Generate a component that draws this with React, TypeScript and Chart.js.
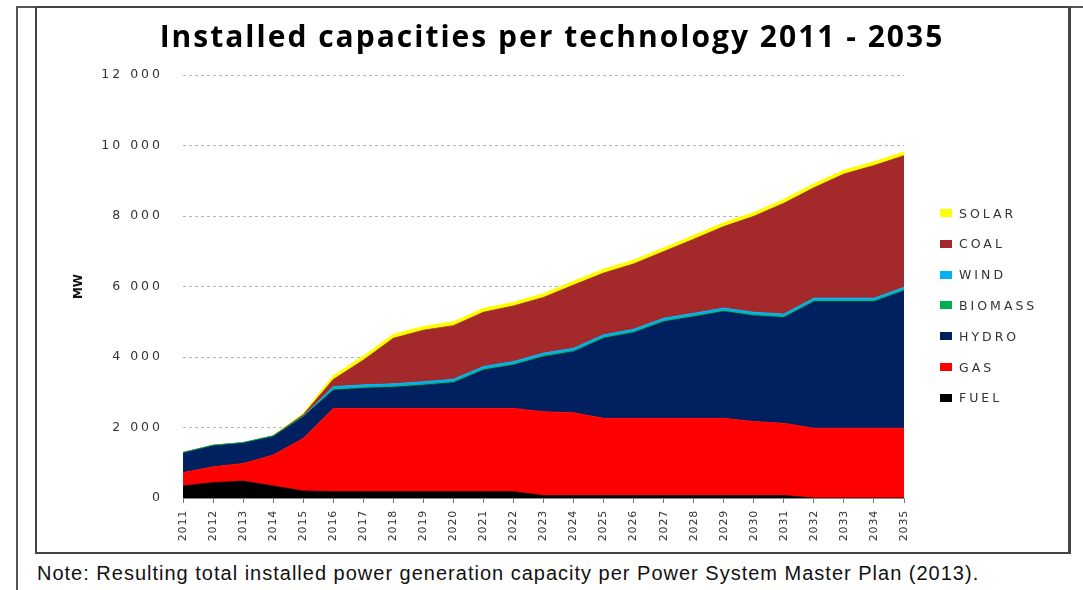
import React, { useEffect, useRef } from 'react';
import { Chart, registerables, LinearScale, CategoryScale } from 'chart.js';

class SpacedLinearScale extends LinearScale {
  static id = 'spacedLinear';
  static defaults = LinearScale.defaults;
  drawLabels(area: any) {
    const ctx = this.ctx as any;
    ctx.save();
    ctx.letterSpacing = '3px';
    super.drawLabels(area);
    ctx.restore();
  }
}

class SpacedCategoryScale extends CategoryScale {
  static id = 'spacedCategory';
  static defaults = CategoryScale.defaults;
  drawLabels(area: any) {
    const ctx = this.ctx as any;
    ctx.save();
    ctx.letterSpacing = '0.8px';
    super.drawLabels(area);
    ctx.restore();
  }
}

Chart.register(...registerables, SpacedLinearScale, SpacedCategoryScale);

const TITLE = 'Installed capacities per technology 2011 - 2035';
const NOTE = 'Note: Resulting total installed power generation capacity per Power System Master Plan (2013).';
const Y_TITLE = 'MW';

const YEARS = ['2011', '2012', '2013', '2014', '2015', '2016', '2017', '2018', '2019', '2020', '2021', '2022', '2023',
  '2024', '2025', '2026', '2027', '2028', '2029', '2030', '2031', '2032', '2033', '2034', '2035'];

const FUEL = [340, 435, 480, 340, 200, 180, 180, 180, 180, 180, 180, 180, 70, 70, 70, 70, 70, 70, 70, 70, 70, 0, 0, 0, 0];
const GAS = [380, 450, 500, 880, 1490, 2360, 2360, 2360, 2360, 2360, 2360, 2360, 2380, 2350, 2190, 2190, 2190, 2190, 2190, 2100, 2050, 1980, 1980, 1980, 1980];
const HYDRO = [550, 590, 570, 520, 610, 520, 570, 600, 660, 730, 1090, 1230, 1560, 1730, 2270, 2430, 2740, 2880, 3030, 3000, 3000, 3590, 3590, 3590, 3900];
const BIOMASS = [20, 20, 20, 20, 20, 30, 30, 30, 30, 30, 30, 30, 30, 30, 30, 30, 30, 30, 30, 30, 30, 30, 30, 30, 30];
const WIND = [0, 0, 0, 0, 0, 70, 70, 70, 70, 70, 70, 70, 70, 70, 70, 70, 70, 70, 70, 70, 70, 70, 70, 70, 70];
const COAL = [0, 0, 0, 0, 40, 200, 700, 1290, 1460, 1520, 1540, 1580, 1580, 1790, 1750, 1850, 1890, 2100, 2310, 2720, 3140, 3130, 3520, 3760, 3730];
const SOLAR = [0, 0, 0, 0, 20, 100, 100, 100, 100, 100, 100, 100, 100, 100, 100, 100, 100, 100, 100, 100, 100, 100, 100, 100, 100];

const Y_TICKS = [0, 2000, 4000, 6000, 8000, 10000, 12000];

const SERIES_NAMES = ['FUEL', 'GAS', 'HYDRO', 'BIOMASS', 'WIND', 'COAL', 'SOLAR'];
const SERIES_COLORS = ['#000000', '#FF0000', '#002060', '#00B050', '#00B0F0', '#A3292B', '#FFFF00'];
const LEGEND_COLORS = ['#000000', '#FF0000', '#002060', '#00B050', '#00B0F0', '#A3292B', '#FFFF00'];

function fmt(v: number): string {
  if (v < 1000) return String(v);
  const th = Math.floor(v / 1000);
  const rest = String(v % 1000).padStart(3, '0');
  return th + ' ' + rest;
}

export default function App() {
  const ref = useRef<HTMLCanvasElement>(null);
  useEffect(() => {
    const values = [FUEL, GAS, HYDRO, BIOMASS, WIND, COAL, SOLAR];
    const chart = new Chart(ref.current!, {
      type: 'line',
      data: {
        labels: YEARS,
        datasets: SERIES_NAMES.map((name, i) => ({
          label: name,
          data: values[i],
          backgroundColor: SERIES_COLORS[i],
          borderColor: SERIES_COLORS[i],
          borderWidth: name === 'SOLAR' ? 1.5 : 0.8,
          fill: i === 0 ? 'origin' : '-1',
          pointRadius: 0,
          pointHoverRadius: 0,
          tension: 0,
        })),
      },
      options: {
        responsive: false,
        animation: false,
        events: [],
        layout: { padding: { left: 32, right: 164, top: 66, bottom: 0 } },
        plugins: {
          legend: { display: false },
          title: { display: false },
          tooltip: { enabled: false },
        },
        scales: {
          x: {
            type: 'spacedCategory' as any,
            offset: false,
            grid: { drawOnChartArea: false, drawTicks: true, tickLength: 5, color: '#777' },
            border: { display: true, color: '#888', width: 1 },
            ticks: {
              autoSkip: false,
              maxRotation: 90,
              minRotation: 90,
              padding: 7,
              color: '#333',
              font: { family: 'DejaVu Sans', size: 11 },
            },
            afterFit: (s: any) => { s.height = 54; },
          },
          y: {
            type: 'spacedLinear' as any,
            stacked: true,
            min: 0,
            max: 12000,
            afterBuildTicks: (s: any) => { s.ticks = Y_TICKS.map((v) => ({ value: v })); },
            ticks: {
              padding: 20,
              color: '#333',
              font: { family: 'DejaVu Sans', size: 12.5 },
              callback: (v: any) => fmt(Number(v)),
            },
            grid: {
              drawTicks: false,
              lineWidth: 1,
              color: (c: any) => (c.tick && c.tick.value === 0 ? 'rgba(0,0,0,0)' : '#b5b5b5'),
            },
            border: { display: false, dash: [3, 3] },
            title: {
              display: true,
              text: Y_TITLE,
              color: '#111',
              font: { family: 'DejaVu Sans', size: 12, weight: 'bold' },
              padding: { top: 2, bottom: 0 },
            },
            afterFit: (s: any) => { s.width = 113; },
          },
        },
      },
    } as any);
    return () => chart.destroy();
  }, []);

  const legendOrder = [6, 5, 4, 3, 2, 1, 0];

  return (
    <div style={{ position: 'absolute', left: 0, top: 0, width: 1083, height: 590, background: '#fff', overflow: 'hidden' }}>
      <div style={{ position: 'absolute', left: 16, top: 6, width: 2, height: 584, background: '#555' }} />
      <div style={{ position: 'absolute', left: 16, top: 6, width: 1067, height: 2, background: '#555' }} />
      <div style={{ position: 'absolute', left: 35, top: 6, width: 1036, height: 548, border: '2px solid #444', borderRightWidth: 3, boxSizing: 'border-box' }} />
      <canvas ref={ref} width={1030} height={543} style={{ position: 'absolute', left: 38, top: 9, width: 1030, height: 543 }} />
      <div style={{ position: 'absolute', left: 0, width: 1104, top: 15, textAlign: 'center', fontFamily: '"Open Sans", sans-serif', fontWeight: 700, fontSize: 30, color: '#000', whiteSpace: 'nowrap', letterSpacing: '2px' }}>
        {TITLE}
      </div>
      {legendOrder.map((idx, row) => (
        <div key={SERIES_NAMES[idx]} style={{ position: 'absolute', left: 940, top: 213 + row * 30.8 - 9, height: 18, display: 'flex', alignItems: 'center' }}>
          <div style={{ width: 12, height: 8, background: LEGEND_COLORS[idx] }} />
          <div style={{ marginLeft: 7, fontFamily: 'DejaVu Sans', fontSize: 12.5, letterSpacing: '3px', color: '#333', whiteSpace: 'nowrap' }}>
            {SERIES_NAMES[idx]}
          </div>
        </div>
      ))}
      <div style={{ position: 'absolute', left: 37, top: 562, fontFamily: '"Liberation Sans", Arial, sans-serif', fontSize: 20, letterSpacing: '1px', color: '#111', whiteSpace: 'nowrap' }}>
        {NOTE}
      </div>
    </div>
  );
}
